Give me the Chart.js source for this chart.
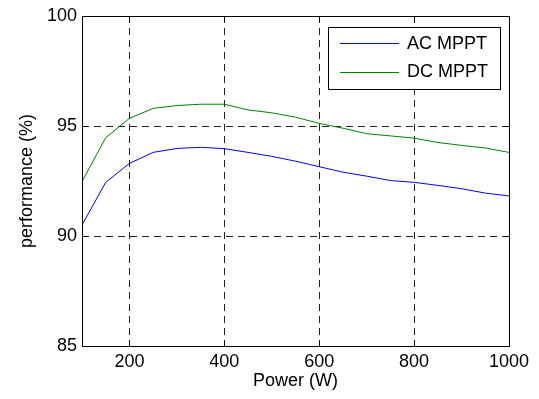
<!DOCTYPE html>
<html>
<head>
<meta charset="utf-8">
<title>Rendement MPPT</title>
<script src="https://cdn.jsdelivr.net/npm/chart.js@4.4.0/dist/chart.umd.min.js"></script>
<style>
  html, body { margin: 0; padding: 0; background: #fff; }
  #wrap { width: 539px; height: 399px; position: relative; }
</style>
</head>
<body>
<div id="wrap"><canvas id="rendement"></canvas></div>
<script>
// Puissance (W) et rendement (%) des deux variantes MPPT
const puissance = [100, 150, 200, 250, 300, 350, 400, 450, 500, 550, 600, 650, 700, 750, 800, 850, 900, 950, 1000];
const acMppt = [90.5, 92.44, 93.3, 93.8, 93.98, 94.03, 93.97, 93.8, 93.62, 93.4, 93.15, 92.9, 92.72, 92.52, 92.44, 92.3, 92.15, 91.95, 91.82];
const dcMppt = [92.47, 94.47, 95.35, 95.8, 95.93, 95.99, 95.99, 95.73, 95.6, 95.4, 95.12, 94.9, 94.65, 94.55, 94.45, 94.25, 94.12, 94.0, 93.8];

const xTicks = [200, 400, 600, 800, 1000];
const yTicks = [85, 90, 95, 100];

const POLICE = '"Liberation Sans", Arial, Helvetica, sans-serif';
const TAILLE = 18;

function points(valeurs) {
    return puissance.map((p, i) => ({ x: p, y: valeurs[i] }));
}

// Cadre noir, petites graduations internes et légende encadrée
const cadrePlugin = {
    id: 'cadre',
    afterDatasetsDraw(chart) {
        const ctx = chart.ctx;
        const a = chart.chartArea;
        const sx = chart.scales.x, sy = chart.scales.y;
        ctx.save();
        ctx.strokeStyle = '#000';
        ctx.lineWidth = 1;
        ctx.setLineDash([]);
        ctx.strokeRect(Math.round(a.left) + 0.5, Math.round(a.top) + 0.5,
            Math.round(a.right - a.left), Math.round(a.bottom - a.top));

        const tl = 5;
        ctx.beginPath();
        xTicks.forEach(v => {
            const x = Math.round(sx.getPixelForValue(v)) + 0.5;
            ctx.moveTo(x, a.bottom); ctx.lineTo(x, a.bottom - tl);
            ctx.moveTo(x, a.top); ctx.lineTo(x, a.top + tl);
        });
        yTicks.forEach(v => {
            const y = Math.round(sy.getPixelForValue(v)) + 0.5;
            ctx.moveTo(a.left, y); ctx.lineTo(a.left + tl, y);
            ctx.moveTo(a.right, y); ctx.lineTo(a.right - tl, y);
        });
        ctx.stroke();

        // légende
        const bx = 328, by = 27, bw = 172, bh = 62;
        ctx.fillStyle = '#fff';
        ctx.fillRect(bx, by, bw, bh);
        ctx.strokeRect(bx + 0.5, by + 0.5, bw, bh);
        ctx.font = TAILLE + 'px ' + POLICE;
        ctx.textBaseline = 'middle';
        ctx.textAlign = 'left';
        chart.data.datasets.forEach((ds, i) => {
            const y = by + 16 + i * 28.5;
            ctx.strokeStyle = ds.borderColor;
            ctx.beginPath();
            ctx.moveTo(340, Math.round(y) + 0.5);
            ctx.lineTo(399, Math.round(y) + 0.5);
            ctx.stroke();
            ctx.fillStyle = '#000';
            ctx.fillText(ds.label, 407, y + 1);
        });
        ctx.restore();
    }
};

new Chart(document.getElementById('rendement'), {
    type: 'line',
    data: {
        datasets: [
            {
                label: 'AC MPPT',
                data: points(acMppt),
                borderColor: '#0000ff',
                borderWidth: 1,
                pointRadius: 0,
                tension: 0
            },
            {
                label: 'DC MPPT',
                data: points(dcMppt),
                borderColor: '#008000',
                borderWidth: 1,
                pointRadius: 0,
                tension: 0
            }
        ]
    },
    options: {
        responsive: true,
        maintainAspectRatio: false,
        animation: false,
        events: [],
        layout: { padding: { left: 0, top: 16, right: 30, bottom: 0 } },
        plugins: {
            legend: { display: false },
            tooltip: { enabled: false }
        },
        scales: {
            x: {
                type: 'linear',
                min: 100,
                max: 1000,
                afterBuildTicks: axis => { axis.ticks = xTicks.map(v => ({ value: v })); },
                afterFit: axis => { axis.height = 53; },
                // la grille pointillée prend son motif dans border.dash
                border: { display: false, dash: [7, 5] },
                grid: {
                    color: '#222',
                    lineWidth: 1,
                    drawTicks: false
                },
                ticks: {
                    color: '#000',
                    padding: 5,
                    maxRotation: 0,
                    callback: v => String(v),
                    font: { family: POLICE, size: TAILLE }
                },
                title: {
                    display: true,
                    text: 'Power (W)',
                    color: '#000',
                    padding: { top: 0, bottom: 7 },
                    font: { family: POLICE, size: TAILLE }
                }
            },
            y: {
                min: 85,
                max: 100,
                afterBuildTicks: axis => { axis.ticks = yTicks.map(v => ({ value: v })); },
                afterFit: axis => { axis.width = 82; },
                border: { display: false, dash: [7, 5] },
                grid: {
                    color: '#222',
                    lineWidth: 1,
                    drawTicks: false
                },
                ticks: {
                    color: '#000',
                    padding: 5,
                    callback: v => String(v),
                    font: { family: POLICE, size: TAILLE }
                },
                title: {
                    display: true,
                    text: 'performance (%)',
                    color: '#000',
                    padding: { top: 16, bottom: 0 },
                    font: { family: POLICE, size: TAILLE }
                }
            }
        }
    },
    plugins: [cadrePlugin]
});
</script>
</body>
</html>
